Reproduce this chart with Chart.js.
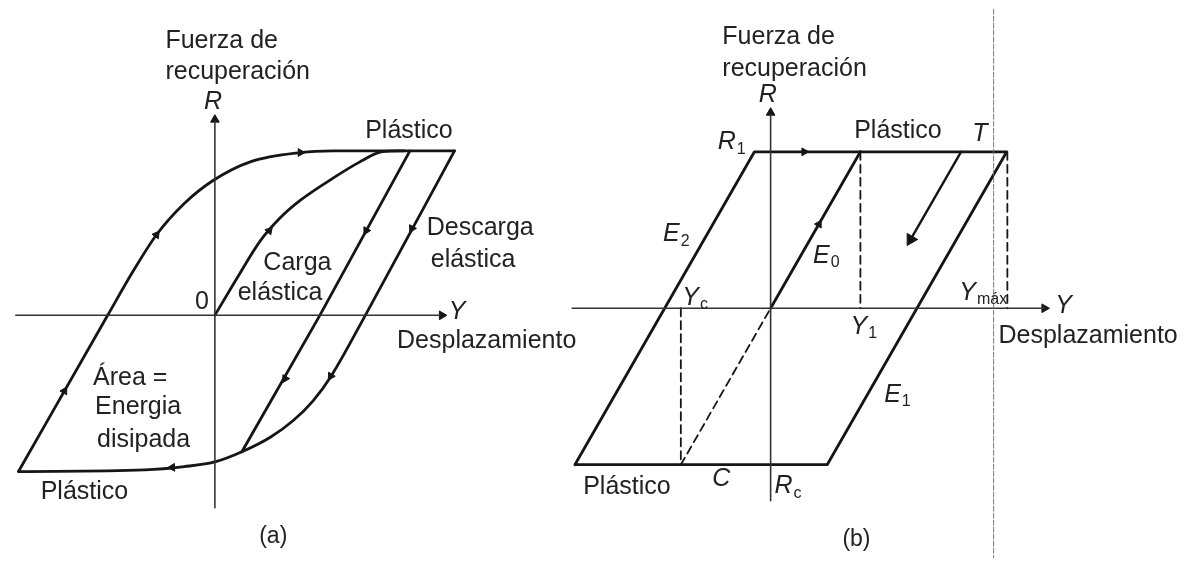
<!DOCTYPE html>
<html>
<head>
<meta charset="utf-8">
<script src="https://cdn.jsdelivr.net/npm/chart.js@4/dist/chart.umd.min.js"></script>
<style>
  html, body { margin: 0; padding: 0; background: #fff; }
  #wrap { position: relative; width: 1191px; height: 566px; }
  #wrap canvas { position: absolute; left: 0; top: 0; }
</style>
</head>
<body>
<div id="wrap">
  <canvas id="chartA" width="1191" height="566"></canvas>
  <canvas id="chartB" width="1191" height="566"></canvas>
</div>
<script>
// ---- (a) lazo con transición suave (Y desplazamiento, R fuerza) ----
const loadCurveA   = [[-2.18,-0.95],[-1.19,0],[-0.9,0.275],[-0.648,0.49],[-0.34,0.68],[-0.02,0.82],[0.4,0.935],[0.95,0.99],[1.31,1],[2.66,1]];
const unloadCurveA = [[2.66,1],[1.67,0],[1.29,-0.37],[1.09,-0.52],[0.87,-0.64],[0.62,-0.74],[0.3,-0.83],[0.01,-0.89],[-0.34,-0.92],[-0.78,-0.94],[-2.18,-0.95]];
const reloadLineA  = [[2.165,1],[1.165,0],[0.3,-0.83]];
const firstLoadA   = [[0,0],[0.25,0.23],[0.5,0.45],[0.72,0.59],[0.95,0.7],[1.3,0.83],[1.6,0.93],[1.86,0.995],[2.1,1]];
const xAxisA = [[-2.21,0],[2.5,0]];
const yAxisA = [[0,-1.17],[0,1.18]];
const arrowPtsA = [[0.95,0.99],[-0.648,0.49],[-1.67,-0.46],[0.604,0.515],[1.68,0.515],[2.187,0.528],[0.78,-0.385],[1.286,-0.37],[-0.473,-0.925]];
const arrowDirA = [[1,0],[1,0.75],[1,0.96],[1,0.62],[-1,-1],[-1,-1],[-1,-0.96],[-1,-0.9],[-1,-0.02]];
const axisTipsA = [[2.52,0],[0,1.19]];
const axisDirA  = [[1,0],[0,1]];
const labelTextA = ['Fuerza de','recuperación','R','Plástico','Descarga','elástica','Carga','elástica','0','Y','Desplazamiento','Área =','Energia','disipada','Plástico','(a)'];
const labelPosA  = [[-0.549,1.667],[-0.549,1.482],[-0.02,1.298],[2.154,1.119],[2.352,0.53],[2.396,0.333],[0.538,0.315],[0.253,0.137],[-0.143,0.083],[2.69,0.02],[2.022,-0.155],[-1.352,-0.381],[-1.33,-0.56],[-1.308,-0.756],[-1.934,-1.077],[0.648,-1.345]];

// ---- (b) modelo elastoplástico ----
const loopB   = [[-2.18,-1],[-0.18,1],[2.63,1],[0.63,-1],[-2.18,-1]];
const e0LineB = [[0,0],[1,1]];
const unloadArrowB = [[2.121,1],[1.56,0.44]];
const dashYcB   = [[-1,0],[-1,-1]];
const dashDiagB = [[-1,-1],[0,0]];
const dashY1B   = [[1,1],[1,0]];
const dashYmaxB = [[2.637,1],[2.637,0]];
const foldLineB = [[2.484,-1.7],[2.484,2]];
const xAxisB = [[-2.21,0],[3.05,0]];
const yAxisB = [[0,-1.23],[0,1.24]];
const arrowPtsB = [[0.374,1],[0.538,0.538]];
const arrowDirB = [[1,0],[1,1]];
const bigArrowPtsB = [[1.56,0.44]];
const bigArrowDirB = [[-1,-1]];
const axisTipsB = [[3.05,0],[0,1.25]];
const axisDirB  = [[1,0],[0,1]];
const labelTextB = ['Fuerza de','recuperación','R','R','Plástico','T','E','E','Y','Y','Y','Y','Desplazamiento','E','Plástico','C','R','(b)'];
const labelSubB  = ['','','','1','','','2','0','c','1','máx','','','1','','','c',''];
const labelPosB  = [[-0.538,1.733],[-0.538,1.528],[-0.033,1.36],[-0.44,1.062],[1.418,1.13],[2.33,1.112],[-1.055,0.472],[0.615,0.335],[-0.846,0.068],[1.033,-0.118],[2.363,0.099],[3.264,0.012],[2.538,-0.18],[1.407,-0.553],[-2.088,-1.143],[-0.549,-1.093],[0.187,-1.137],[0.956,-1.478]];

const INK = '#151515';
const TXT = '#222';
const FONT = '"Liberation Sans", Arial, sans-serif';

function pts(arr) { return arr.map(p => ({ x: p[0], y: p[1] })); }

function line(arr, extra) {
  return Object.assign({
    data: pts(arr), showLine: true, pointRadius: 0, borderColor: INK,
    borderWidth: 2.8, tension: 0, fill: false, borderCapStyle: 'round', borderJoinStyle: 'round'
  }, extra || {});
}

function angleOf(chart, d) {
  if (!d) return 0;
  const sx = chart.scales.x, sy = chart.scales.y;
  const px = sx.getPixelForValue(d[0]) - sx.getPixelForValue(0);
  const py = sy.getPixelForValue(d[1]) - sy.getPixelForValue(0);
  return Math.atan2(px, -py) * 180 / Math.PI;
}

function heads(arr, dirs, r) {
  return {
    data: pts(arr), showLine: false, pointStyle: 'triangle', pointRadius: r,
    backgroundColor: INK, borderColor: INK, borderWidth: 1,
    pointRotation: ctx => angleOf(ctx.chart, dirs[ctx.dataIndex])
  };
}

// texts drawn at data positions
const textPlugin = {
  id: 'figText',
  afterDatasetsDraw(chart, args, opts) {
    const c = chart.ctx, sx = chart.scales.x, sy = chart.scales.y;
    c.save();
    c.fillStyle = TXT;
    c.textBaseline = 'middle';
    opts.text.forEach((t, i) => {
      const p = opts.pos[i];
      const sub = opts.sub ? opts.sub[i] : '';
      const italic = opts.italic.includes(i);
      const size = (t === '(a)' || t === '(b)') ? 23 : 25;
      const mainFont = (italic ? 'italic ' : '') + size + 'px ' + FONT;
      const subFont = '16px ' + FONT;
      c.font = mainFont;
      const w1 = c.measureText(t).width;
      let w2 = 0;
      if (sub) { c.font = subFont; w2 = c.measureText(sub).width; }
      const x = sx.getPixelForValue(p[0]), y = sy.getPixelForValue(p[1]);
      const left = opts.left.includes(i) ? x : x - (w1 + w2) / 2;
      c.textAlign = 'left';
      c.font = mainFont;
      c.fillText(t, left, y);
      if (sub) { c.font = subFont; c.fillText(sub, left + w1 + 1, y + 7); }
    });
    c.restore();
  }
};

function baseOptions(xr, yr, textOpts) {
  return {
    responsive: false, animation: false,
    layout: { padding: 0 },
    scales: {
      x: { type: 'linear', display: false, min: xr[0], max: xr[1] },
      y: { type: 'linear', display: false, min: yr[0], max: yr[1] }
    },
    plugins: { legend: { display: false }, tooltip: { enabled: false }, figText: textOpts }
  };
}

new Chart(document.getElementById('chartA'), {
  type: 'scatter',
  data: {
    datasets: [
      line(xAxisA, { borderWidth: 1.6, borderColor: '#333' }),
      line(yAxisA, { borderWidth: 1.6, borderColor: '#333' }),
      line(loadCurveA, { cubicInterpolationMode: 'monotone' }),
      line(unloadCurveA, { cubicInterpolationMode: 'monotone' }),
      line(reloadLineA),
      line(firstLoadA, { cubicInterpolationMode: 'monotone' }),
      heads(arrowPtsA, arrowDirA, 4.5),
      heads(axisTipsA, axisDirA, 5)
    ]
  },
  options: baseOptions([-2.3187, 10.769], [-1.488, 1.881], {
    text: labelTextA, pos: labelPosA,
    italic: [2, 9], left: [0, 1, 4, 5, 6, 7, 10, 11, 12, 13, 14]
  }),
  plugins: [textPlugin]
});

new Chart(document.getElementById('chartB'), {
  type: 'scatter',
  data: {
    datasets: [
      line(foldLineB, { borderWidth: 1, borderColor: '#7a7a7a', borderDash: [5, 2] }),
      line(xAxisB, { borderWidth: 1.6, borderColor: '#333' }),
      line(yAxisB, { borderWidth: 1.6, borderColor: '#333' }),
      line(dashYcB, { borderWidth: 1.8, borderDash: [8, 5] }),
      line(dashDiagB, { borderWidth: 1.8, borderDash: [8, 5] }),
      line(dashY1B, { borderWidth: 1.8, borderDash: [8, 5] }),
      line(dashYmaxB, { borderWidth: 1.8, borderDash: [8, 5] }),
      line(loopB),
      line(e0LineB),
      line(unloadArrowB, { borderWidth: 2.4 }),
      heads(arrowPtsB, arrowDirB, 4.5),
      heads(bigArrowPtsB, bigArrowDirB, 7),
      heads(axisTipsB, axisDirB, 5)
    ]
  },
  options: baseOptions([-8.4945, 4.5934], [-1.5963, 1.9193], {
    text: labelTextB, sub: labelSubB, pos: labelPosB,
    italic: [2, 3, 5, 6, 7, 8, 9, 10, 11, 13, 15, 16], left: [0, 1, 12, 14]
  }),
  plugins: [textPlugin]
});
</script>
</body>
</html>
